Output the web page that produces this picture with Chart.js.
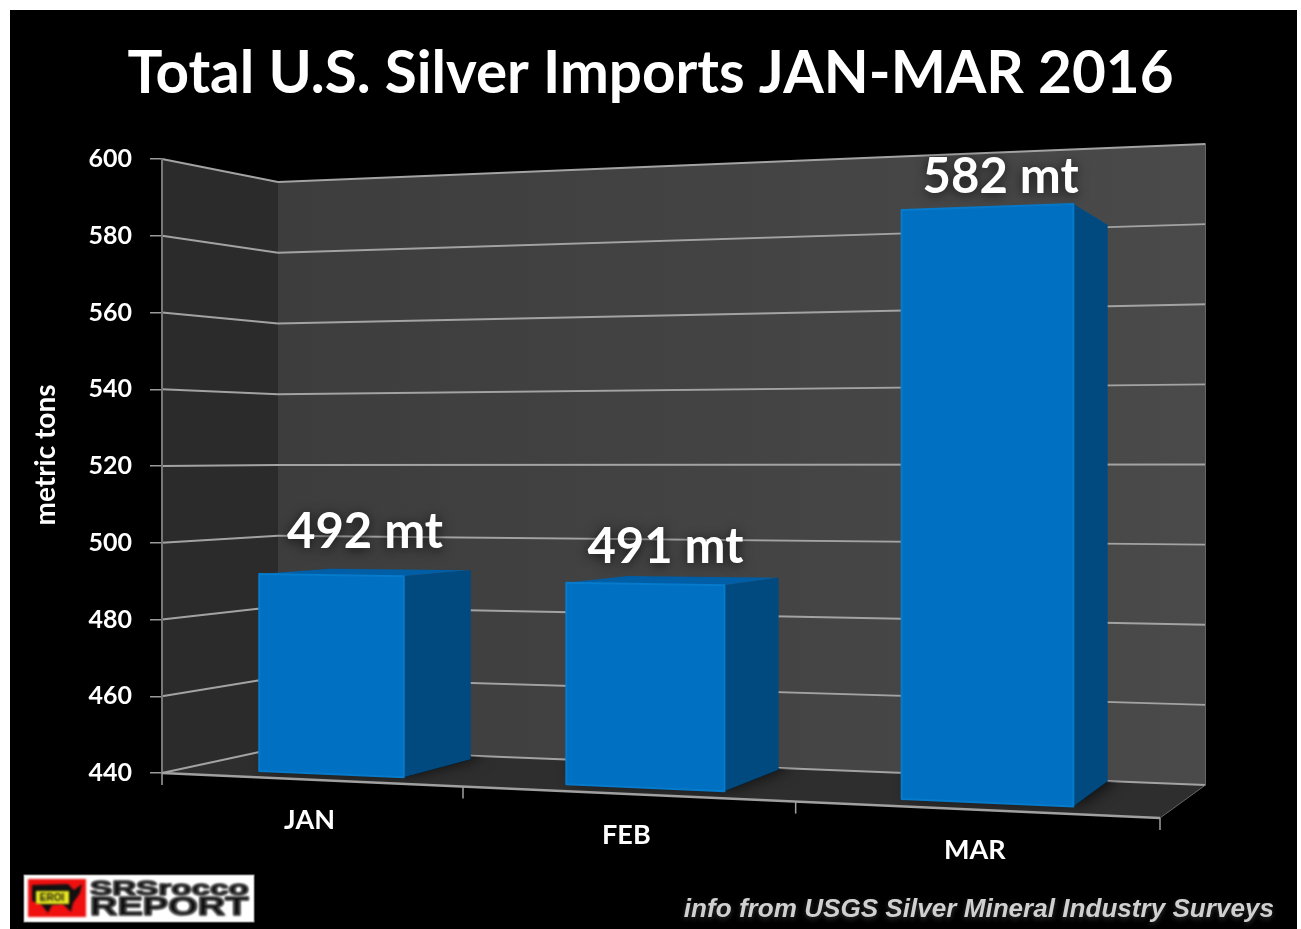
<!DOCTYPE html>
<html>
<head>
<meta charset="utf-8">
<title>Total U.S. Silver Imports JAN-MAR 2016</title>
<script src="https://cdn.jsdelivr.net/npm/chart.js@4"></script>
<style>
    html, body { margin: 0; padding: 0; background: #fff; }
    canvas { display: block; }
</style>
</head>
<body>
<canvas id="silver_chart" width="1301" height="929"></canvas>
<script>
'use strict';

var months = ['JAN', 'FEB', 'MAR'];
var imports = [492, 491, 582];
var tickValues = [440, 460, 480, 500, 520, 540, 560, 580, 600];
var unit = 'mt';

var titleText = 'Total U.S. Silver Imports JAN-MAR 2016';
var axisText = 'metric tons';
var sourceText = 'info from USGS Silver Mineral Industry Surveys';

var FONT = 'Lato, sans-serif';
var blueFront = '#0070c2';
var blueEdge = '#067acb';
var blueSide = '#004a80';
var blueTop = '#005ea6';

// ------------------------------------------------------- //
// Fake 3D: where the flat chart pixels land on the picture
// ------------------------------------------------------ //
var chart;

var vanish = { x: 1521, y: 477 };

function barPoint(px, py) {
    var a = chart.chartArea;
    var yScale = chart.scales.y;
    var t = (px - a.left) / (a.right - a.left);
    var x = 184.3 + 857 * t + 127 * t * t;
    var floor = 771.7 + 0.0436 * (x - 258);
    var k = 3.8 + 0.00055 * (x - 258);
    return { x: x, y: floor - (yScale.getValueForPixel(py) - yScale.min) * k };
}

function backPoint(p) {
    var depth = 0.06 + (p.x - 403) * 0.0000249;
    return { x: p.x + (vanish.x - p.x) * depth, y: p.y + (vanish.y - p.y) * depth };
}

function poly(ctx, pts, fill) {
    ctx.beginPath();
    pts.forEach(function (p, i) {
        if (i === 0) { ctx.moveTo(p.x, p.y); } else { ctx.lineTo(p.x, p.y); }
    });
    ctx.closePath();
    if (fill) {
        ctx.fillStyle = fill;
        ctx.fill();
    }
}

function line(ctx, x1, y1, x2, y2, color, width) {
    ctx.strokeStyle = color;
    ctx.lineWidth = width;
    ctx.beginPath();
    ctx.moveTo(x1, y1);
    ctx.lineTo(x2, y2);
    ctx.stroke();
}

var floorCorners = [{ x: 162, y: 773 }, { x: 1160, y: 818 }, { x: 1205.5, y: 785 }, { x: 278, y: 748 }];

// every bar goes through here, so it still comes from the bar element's own x, y, base and width
Chart.BarElement.prototype.draw = function (ctx) {
    var half = this.width / 2;
    var tl = barPoint(this.x - half, this.y);
    var tr = barPoint(this.x + half, this.y);
    var br = barPoint(this.x + half, this.base);
    var bl = barPoint(this.x - half, this.base);
    var tl2 = backPoint(tl), tr2 = backPoint(tr), br2 = backPoint(br);

    // soft shadow, floor only
    ctx.save();
    poly(ctx, floorCorners);
    ctx.clip();
    ctx.shadowColor = 'rgba(0,0,0,0.7)';
    ctx.shadowBlur = 16;
    ctx.shadowOffsetX = 8;
    ctx.shadowOffsetY = -2;
    poly(ctx, [bl, br, br2, tr2, tl], '#000');
    ctx.restore();

    ctx.save();
    ctx.lineJoin = 'round';
    poly(ctx, [tl, tr, tr2, tl2], blueTop);
    poly(ctx, [tr, br, br2, tr2], blueSide);
    poly(ctx, [tl, tr, br, bl], this.options.backgroundColor);
    ctx.strokeStyle = blueEdge;
    ctx.lineWidth = 2;
    ctx.stroke();
    ctx.restore();
};

// ------------------------------------------------------- //
// Panel, walls and floor behind the bars
// ------------------------------------------------------ //
var scenePlugin = {
    id: 'scene',
    beforeDraw: function (c) {
        var ctx = c.ctx;
        var y = c.scales.y;
        var a = c.chartArea;
        chart = c;

        ctx.save();
        ctx.fillStyle = '#fff';
        ctx.fillRect(0, 0, c.width, c.height);
        ctx.fillStyle = '#000';
        ctx.fillRect(10, 10, 1287, 919);

        poly(ctx, [{ x: a.left, y: a.top }, { x: 278, y: 182 }, { x: 278, y: 748 }, { x: a.left, y: a.bottom }], '#2b2b2b');
        var wall = ctx.createLinearGradient(278, 0, 1205, 0);
        wall.addColorStop(0, '#3d3d3d');
        wall.addColorStop(1, '#4a4a4a');
        poly(ctx, [{ x: 278, y: 182 }, { x: 1205.5, y: 144 }, { x: 1205.5, y: 785 }, { x: 278, y: 748 }], wall);
        poly(ctx, floorCorners, '#2e2e2e');

        tickValues.forEach(function (v) {
            var f = (v - y.min) / (y.max - y.min);
            var backLeft = 748 - f * 566;
            var backRight = 785 - f * 641;
            line(ctx, a.left, y.getPixelForValue(v), 278, backLeft, '#a3a3a3', 2);
            line(ctx, 278, backLeft, 1205.5, backRight, '#a3a3a3', 2);
        });
        line(ctx, 1205.5, 144, 1205.5, 785, '#666', 1);
        line(ctx, 1160, 818, 1205.5, 785, '#666', 1);
        ctx.restore();
    },
    afterDraw: function (c) {
        var ctx = c.ctx;
        var a = c.chartArea;
        var xScale = c.scales.x;

        function frontX(t) { return a.left + 855.5 * t + 142.5 * t * t; }
        function frontY(x) { return 773 + 0.0451 * (x - a.left); }

        ctx.save();

        // category axis along the sloped front edge
        line(ctx, a.left, 773, 1160, 818, '#a0a0a0', 2.4);
        for (var i = 0; i <= months.length; i++) {
            var tx = frontX(i / months.length);
            line(ctx, tx, frontY(tx), tx, frontY(tx) + 12, '#a0a0a0', 1.5);
        }
        ctx.fillStyle = '#fff';
        ctx.font = 'bold 27px ' + FONT;
        ctx.textAlign = 'center';
        ctx.textBaseline = 'middle';
        months.forEach(function (m, idx) {
            var t = (xScale.getPixelForTick(idx) - a.left) / (a.right - a.left);
            var mx = frontX(t) + 1;
            ctx.fillText(m, mx, frontY(mx) + 41);
        });

        // axis title
        ctx.save();
        ctx.translate(46, 455);
        ctx.rotate(-Math.PI / 2);
        ctx.font = 'bold 28px ' + FONT;
        ctx.fillText(axisText, 0, 0);
        ctx.restore();

        // value labels
        var nudge = [[0, -42], [-7, -35], [-4, -33]];
        var bars = c.getDatasetMeta(0).data;
        ctx.font = 'bold 49px ' + FONT;
        ctx.shadowColor = 'rgba(0,0,0,0.7)';
        ctx.shadowBlur = 12;
        ctx.shadowOffsetY = 2;
        imports.forEach(function (v, idx) {
            var b = bars[idx];
            var left = barPoint(b.x - b.width / 2, b.y);
            var right = backPoint(barPoint(b.x + b.width / 2, b.y));
            ctx.fillText(v + ' ' + unit, (left.x + right.x) / 2 + nudge[idx][0], left.y + nudge[idx][1]);
        });

        // source note
        ctx.font = 'italic bold 26.1px "Liberation Sans", sans-serif';
        ctx.textAlign = 'right';
        ctx.fillStyle = '#d0d0d0';
        ctx.shadowColor = 'rgba(255,255,255,0.2)';
        ctx.shadowBlur = 5;
        ctx.shadowOffsetY = 2;
        ctx.fillText(sourceText, 1274, 910);
        ctx.restore();

        drawLogo(ctx);
    }
};

function drawLogo(ctx) {
    ctx.save();
    ctx.fillStyle = '#fff';
    ctx.fillRect(24, 875, 230, 47);
    ctx.strokeStyle = '#999';
    ctx.lineWidth = 1;
    ctx.strokeRect(24, 875, 230, 47);
    ctx.filter = 'blur(0.9px)';
    ctx.fillStyle = '#f01010';
    ctx.fillRect(28, 879, 58, 38);
    ctx.fillStyle = '#111';
    ctx.beginPath();
    ctx.moveTo(32, 885); ctx.lineTo(68, 884); ctx.lineTo(74, 890); ctx.lineTo(82, 884);
    ctx.lineTo(80, 893); ctx.lineTo(73, 903); ctx.lineTo(71, 912); ctx.lineTo(63, 904);
    ctx.lineTo(52, 905); ctx.lineTo(48, 913); ctx.lineTo(41, 904); ctx.lineTo(32, 901);
    ctx.closePath();
    ctx.fill();
    ctx.fillStyle = '#e8e820';
    ctx.fillRect(36, 891, 33, 13);
    ctx.fillStyle = '#111';
    ctx.font = 'bold 10px "Liberation Sans", sans-serif';
    ctx.textAlign = 'center';
    ctx.textBaseline = 'middle';
    ctx.fillText('EROI', 52, 898);

    ctx.textAlign = 'left';
    ctx.strokeStyle = '#111';
    ctx.lineWidth = 1;
    ctx.save();
    ctx.translate(90, 889);
    ctx.scale(1.66, 1);
    ctx.font = 'bold 20px "Liberation Sans", sans-serif';
    ctx.fillText('SRSrocco', 0, 0);
    ctx.strokeText('SRSrocco', 0, 0);
    ctx.restore();
    ctx.save();
    ctx.translate(90, 908);
    ctx.scale(1.52, 1);
    ctx.font = 'bold 25px "Liberation Sans", sans-serif';
    ctx.fillText('REPORT', 0, 0);
    ctx.strokeText('REPORT', 0, 0);
    ctx.restore();
    ctx.restore();
}

// ------------------------------------------------------- //
// Bar Chart
// ------------------------------------------------------ //
var titleSize = 58.4;

new Chart(document.getElementById('silver_chart'), {
    type: 'bar',
    data: {
        labels: months,
        datasets: [
            {
                label: 'metric tons',
                data: imports,
                base: tickValues[0],
                backgroundColor: blueFront,
                barPercentage: 0.482,
                categoryPercentage: 1,
                clip: false
            }
        ]
    },
    options: {
        responsive: false,
        animation: false,
        plugins: {
            legend: { display: false },
            tooltip: { enabled: false },
            title: {
                display: true,
                text: titleText,
                color: '#fff',
                font: { family: FONT, size: titleSize, weight: 'bold', lineHeight: 1.2 },
                padding: { top: 74 - 0.6 * titleSize, bottom: 159 - 74 - 0.6 * titleSize }
            }
        },
        scales: {
            x: {
                grid: { display: false },
                border: { display: false },
                ticks: { display: false },
                afterFit: function (s) { s.height = 929 - 773; }
            },
            y: {
                min: 440,
                max: 600,
                afterFit: function (s) { s.width = 162; },
                afterBuildTicks: function (s) {
                    s.ticks = tickValues.map(function (v) { return { value: v }; });
                },
                grid: { drawOnChartArea: false, color: '#9a9a9a', tickLength: 12, lineWidth: 1.5 },
                border: { color: '#777', width: 2 },
                ticks: {
                    color: '#fff',
                    padding: 18,
                    font: { family: FONT, size: 25, weight: 'bold' }
                }
            },
            // empty scale on the right, keeps the plot short of the page edge but the title centred
            spacer: {
                type: 'linear',
                position: 'right',
                grid: { display: false },
                border: { display: false },
                ticks: { display: false },
                afterFit: function (s) { s.width = 1301 - 1160; }
            }
        }
    },
    plugins: [scenePlugin]
});
</script>
</body>
</html>
